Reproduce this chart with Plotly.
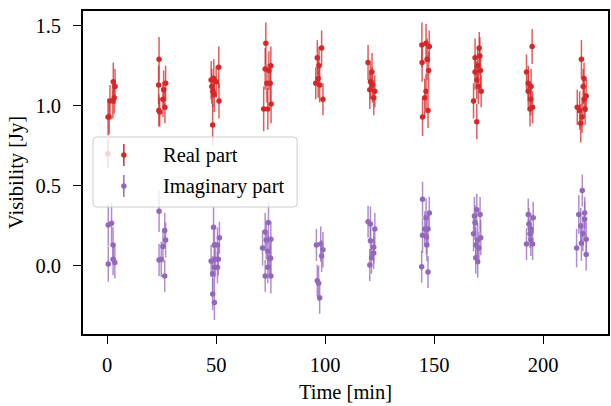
import plotly.graph_objects as go

# ---------------- data ----------------
real_t = [0.3, 0.4, 0.9, 1.3, 2.6, 2.8, 3.2, 3.6,
          23.6, 23.8, 23.7, 24.1, 25.6, 25.9, 26.5, 26.8,
          47.7, 48.0, 48.4, 48.5, 48.9, 49.1, 50.0, 51.2, 51.3,
          71.8, 72.5, 72.8, 73.3, 73.7, 74.2, 74.8, 75.1, 75.2,
          95.7, 96.4, 96.8, 97.2, 97.5, 98.4, 99.0,
          119.7, 120.5, 120.8, 121.5, 121.7, 122.3, 122.8,
          144.4, 144.5, 144.7, 145.7, 146.3, 146.3, 146.8, 147.2, 147.5, 147.8,
          168.1, 168.8, 168.8, 169.6, 169.6, 170.0, 170.3, 170.7, 171.0, 171.3, 171.6,
          192.4, 193.2, 193.2, 194.0, 194.4, 194.5, 195.0, 195.2,
          215.7, 216.8, 217.3, 217.6, 217.9, 218.4, 218.8, 218.8, 219.3, 219.8]
real_v = [0.70, 0.93, 0.93, 1.03, 1.03, 1.15, 1.05, 1.12,
          1.13, 1.29, 0.97, 0.96, 1.04, 1.10, 0.99, 1.14,
          1.16, 1.12, 0.88, 1.09, 1.17, 1.07, 1.15, 1.24, 1.03,
          0.98, 1.23, 1.39, 1.14, 0.98, 1.22, 1.14, 1.25, 1.01,
          1.14, 1.30, 1.17, 1.25, 1.13, 1.36, 1.04,
          1.27, 1.10, 1.15, 1.21, 1.13, 1.05, 1.09,
          1.38, 1.27, 0.93, 1.05, 1.39, 1.09, 1.29, 0.97, 1.22, 1.37,
          1.03, 1.30, 1.21, 0.90, 1.16, 1.25, 1.12, 1.36, 1.31, 1.22, 1.09,
          1.21, 1.14, 1.09, 0.98, 1.04, 1.12, 1.37, 0.99,
          0.99, 0.97, 0.89, 1.29, 0.93, 1.12, 1.17, 1.04, 0.98, 1.06]
real_e = [0.09, 0.115, 0.11, 0.10, 0.11, 0.12, 0.10, 0.11,
          0.12, 0.14, 0.10, 0.09, 0.11, 0.12, 0.10, 0.11,
          0.12, 0.11, 0.13, 0.10, 0.12, 0.11, 0.10, 0.13, 0.11,
          0.14, 0.13, 0.13, 0.12, 0.13, 0.12, 0.11, 0.12, 0.12,
          0.10, 0.11, 0.12, 0.12, 0.11, 0.11, 0.10,
          0.11, 0.12, 0.11, 0.12, 0.11, 0.11, 0.10,
          0.14, 0.12, 0.12, 0.12, 0.12, 0.11, 0.13, 0.11, 0.12, 0.10,
          0.11, 0.12, 0.11, 0.11, 0.12, 0.11, 0.11, 0.10, 0.12, 0.11, 0.10,
          0.11, 0.11, 0.10, 0.11, 0.10, 0.11, 0.11, 0.10,
          0.11, 0.12, 0.12, 0.12, 0.10, 0.11, 0.10, 0.11, 0.10, 0.10]

imag_t = [0.5, 0.5, 2.0, 2.7, 2.7, 3.5,
          23.8, 23.8, 24.8, 25.6, 26.4, 26.4, 26.8,
          47.7, 48.4, 48.4, 48.8, 49.2, 49.2, 49.2, 49.5, 50.6, 50.6, 51.0, 51.5,
          71.3, 72.5, 72.5, 73.0, 73.7, 73.7, 74.0, 74.4, 75.0, 75.1, 75.1,
          96.0, 96.4, 97.0, 97.5, 98.0, 98.4, 99.0,
          119.7, 120.5, 120.8, 120.8, 121.3, 122.3, 122.3, 122.8,
          144.3, 144.7, 144.7, 145.7, 146.3, 146.5, 146.7, 147.2, 147.2, 147.8,
          168.1, 168.5, 168.8, 169.1, 169.2, 169.6, 170.0, 170.0, 170.6, 171.1, 171.4,
          192.4, 193.2, 193.5, 194.0, 194.4, 194.4, 195.2, 195.5,
          215.4, 216.4, 217.3, 217.6, 218.0, 218.3, 219.1, 219.1, 219.8, 219.8]
imag_v = [0.254, 0.01, 0.265, 0.13, 0.04, 0.02,
          0.34, 0.036, 0.04, 0.12, 0.22, -0.064, 0.16,
          0.03, -0.05, -0.177, 0.24, 0.13, -0.01, -0.23, 0.04, 0.13, -0.01, 0.04, 0.175,
          0.11, 0.21, -0.064, 0.16, 0.09, -0.01, 0.27, 0.046, 0.046, 0.165, -0.064,
          0.13, -0.094, -0.11, -0.20, 0.135, 0.06, 0.10,
          0.275, 0.004, 0.26, 0.156, 0.05, 0.115, 0.08, 0.23,
          -0.006, 0.415, 0.19, 0.23, 0.30, 0.18, 0.13, 0.23, -0.04, 0.33,
          0.20, 0.31, 0.27, 0.05, 0.13, 0.35, 0.16, 0.025, 0.11, 0.32, 0.175,
          0.135, 0.32, 0.26, 0.20, 0.23, 0.16, 0.135, 0.30,
          0.11, 0.32, 0.25, 0.14, 0.47, 0.20, 0.33, 0.29, 0.165, 0.07]
imag_e = [0.13, 0.11, 0.13, 0.11, 0.10, 0.10,
          0.13, 0.10, 0.11, 0.10, 0.11, 0.10, 0.11,
          0.10, 0.11, 0.10, 0.13, 0.12, 0.11, 0.11, 0.11, 0.11, 0.10, 0.10, 0.10,
          0.11, 0.12, 0.10, 0.12, 0.11, 0.10, 0.13, 0.10, 0.11, 0.11, 0.11,
          0.10, 0.10, 0.11, 0.10, 0.11, 0.10, 0.11,
          0.10, 0.10, 0.11, 0.11, 0.10, 0.10, 0.10, 0.10,
          0.10, 0.11, 0.11, 0.11, 0.12, 0.11, 0.10, 0.11, 0.10, 0.10,
          0.11, 0.12, 0.11, 0.10, 0.11, 0.10, 0.11, 0.10, 0.10, 0.11, 0.11,
          0.10, 0.10, 0.10, 0.09, 0.10, 0.10, 0.10, 0.10,
          0.12, 0.12, 0.11, 0.11, 0.10, 0.11, 0.10, 0.11, 0.11, 0.10]

series_names = ["Real part", "Imaginary part"]
x_ticks = [0, 50, 100, 150, 200]
y_ticks = [0.0, 0.5, 1.0, 1.5]
y_tick_text = ["0.0", "0.5", "1.0", "1.5"]

RED = "#d62728"
PURPLE = "#9467bd"
FONT = "Liberation Serif, Times New Roman, serif"
FS = 20.5

fig = go.Figure()
for t, v, e, col, colA in [(real_t, real_v, real_e, RED, "rgba(214,39,40,0.75)"),
                           (imag_t, imag_v, imag_e, PURPLE, "rgba(148,103,189,0.75)")]:
    fig.add_trace(go.Scatter(
        x=t, y=v, mode="markers",
        marker=dict(color=col, size=5.5, line=dict(width=0)),
        error_y=dict(type="data", array=e, visible=True, color=colA,
                     thickness=1.5, width=0),
        showlegend=False,
    ))

# plot area geometry (pixels) for legend placement
L, R, T, B = 83, 1, 11, 72
W, H = 611, 406
PW, PH = W - L - R, H - T - B


def px(x):
    return (x - L) / PW


def py(y):
    return (H - B - y) / PH


# legend box with rounded corners
bx0, bx1, by0, by1 = px(93), px(298), py(207), py(137)
rx, ry = 4 / PW, 4 / PH
path = (f"M {bx0+rx},{by0} L {bx1-rx},{by0} Q {bx1},{by0} {bx1},{by0+ry} "
        f"L {bx1},{by1-ry} Q {bx1},{by1} {bx1-rx},{by1} L {bx0+rx},{by1} "
        f"Q {bx0},{by1} {bx0},{by1-ry} L {bx0},{by0+ry} Q {bx0},{by0} {bx0+rx},{by0} Z")
shapes = [dict(type="path", path=path, xref="paper", yref="paper",
               fillcolor="rgba(255,255,255,0.8)", line=dict(color="#cccccc", width=1),
               layer="above")]
annotations = []
for name, col, yc in [(series_names[0], RED, 155), (series_names[1], PURPLE, 186)]:
    shapes.append(dict(type="line", xref="paper", yref="paper",
                       x0=px(124), x1=px(124), y0=py(yc - 11), y1=py(yc + 11),
                       line=dict(color=col, width=1.5), layer="above"))
    shapes.append(dict(type="circle", xref="paper", yref="paper",
                       xsizemode="pixel", ysizemode="pixel",
                       xanchor=px(124), yanchor=py(yc),
                       x0=-2.7, x1=2.7, y0=-2.7, y1=2.7,
                       fillcolor=col, line=dict(width=0), layer="above"))
    annotations.append(dict(text=name, xref="paper", yref="paper",
                            x=px(161), y=py(yc), xanchor="left", yanchor="middle",
                            showarrow=False, font=dict(family=FONT, size=FS, color="black")))

axis_common = dict(showline=True, linecolor="black", linewidth=1.6, mirror=True,
                   ticks="outside", ticklen=8, tickwidth=1.3, tickcolor="black",
                   showgrid=False, zeroline=False,
                   tickfont=dict(family=FONT, size=FS, color="black"))

fig.update_layout(
    width=W, height=H,
    margin=dict(l=L, r=R, t=T, b=B),
    paper_bgcolor="white", plot_bgcolor="white",
    showlegend=False,
    shapes=shapes, annotations=annotations,
    xaxis=dict(range=[-11.1, 229.8], tickvals=x_ticks, ticklabelstandoff=4,
               title=dict(text="Time [min]", font=dict(family=FONT, size=FS, color="black"),
                          standoff=9),
               **axis_common),
    yaxis=dict(range=[-0.427, 1.592], tickvals=y_ticks, ticktext=y_tick_text,
               ticklabelstandoff=8,
               title=dict(text="Visibility [Jy]", font=dict(family=FONT, size=FS, color="black"),
                          standoff=6),
               **axis_common),
)

fig.write_html("out.html")
